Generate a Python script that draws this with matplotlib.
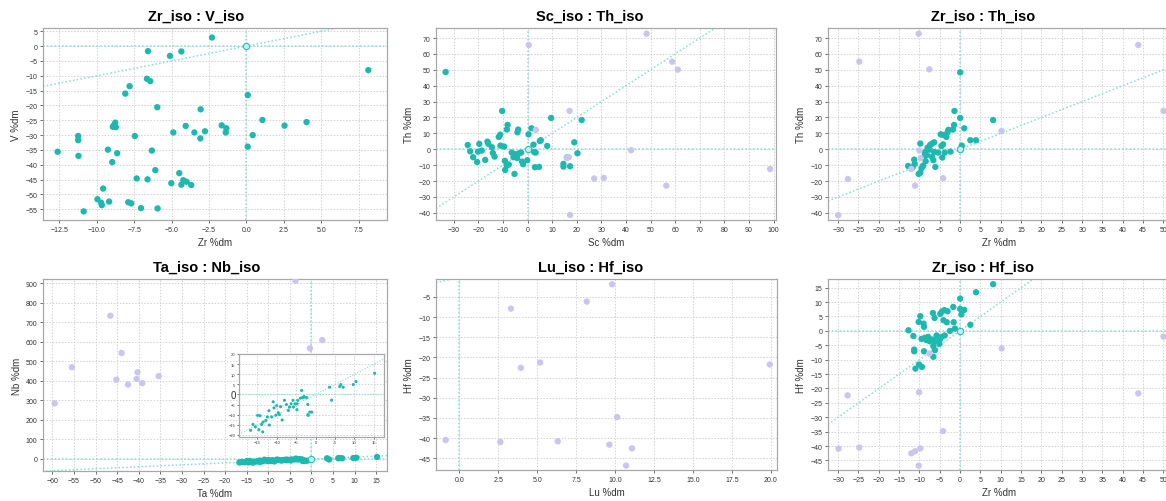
import matplotlib.pyplot as plt
import numpy as np

plt.rcParams['font.family'] = ['Liberation Sans', 'DejaVu Sans']

TEAL = '#1db8b0'
LAV = '#c8c6ee'
REF = '#86dcd8'

# --- Zr_iso : V_iso ---
zr_v_x = [-2.30, -6.58, -5.11, -4.35, 8.15, -6.65, -6.43, -7.81, -8.10, 0.09, -5.96, -3.06, 1.07, 4.02, 2.55,
          -1.65, -1.34, -1.38, -4.06, -2.77, -3.48, -4.89, -3.08, 0.42, 0.09, -8.77, -8.88, -8.73, -8.93, -7.46,
          -11.25, -11.25, -12.62, -11.23, -9.26, -8.64, -6.32, -8.97, -6.09, -4.49, -7.34, -6.61, -5.02, -4.22,
          -4.0, -4.35, -3.69, -9.58, -9.96, -9.71, -9.67, -9.18, -7.90, -7.70, -7.05, -5.94, -10.88]
zr_v_y = [2.9, -1.7, -3.3, -1.8, -8.1, -11.0, -11.8, -13.5, -16.0, -16.5, -20.6, -21.3, -24.9, -25.6, -26.8,
          -26.7, -27.7, -29.1, -26.9, -28.7, -29.1, -29.1, -31.1, -30.0, -33.9, -25.8, -26.8, -27.3, -27.2, -30.3,
          -30.3, -31.7, -35.6, -37.0, -34.9, -36.1, -35.2, -39.1, -41.8, -42.8, -44.6, -44.9, -46.2, -45.2,
          -45.7, -46.7, -46.8, -48.0, -51.6, -52.8, -53.6, -52.4, -52.6, -53.0, -54.6, -54.7, -55.7]

# --- Sc_iso : Th_iso ---
sc_th_x = [-33.3, -10.3, 9.6, 22.0, -8.1, 1.6, -3.8, -4.1, 0.4, -8.4, -11.1, -11.7, 5.4, 5.0, 19.0, -24.3,
           -19.6, -16.3, -15.9, -14.5, -11.0, -9.5, 2.4, 8.0, -23.3, -20.1, -18.6, -14.1, -13.4, -22.1, -17.2,
           -20.5, -9.2, -6.4, -5.0, -3.4, -2.6, -5.7, -4.2, -2.2, -0.1, -1.8, -7.6, -8.4, -9.1, -5.3, 2.7, 3.3,
           20.3, 16.0, 14.6, 14.6, 17.3, 3.0, 4.7]
sc_th_y = [48.6, 24.1, 19.7, 18.4, 15.3, 13.2, 12.4, 10.7, 9.4, 12.4, 9.2, 7.8, 5.7, 5.2, 4.4, 2.7,
           3.4, 4.8, 3.4, 1.3, 2.3, 1.7, 2.9, 2.1, -1.3, -1.5, -0.8, -2.3, -4.6, -5.0, -6.7,
           -8.0, -7.3, -2.1, -3.1, -2.5, -2.1, -5.0, -5.5, -7.8, -6.9, -9.4, -9.6, -10.3, -13.0, -15.5, -1.7, -2.1,
           -2.5, -5.2, -9.2, -10.9, -10.7, -11.3, -11.1]
sc_th_out_x = [48.4, 0.5, 58.8, 61.1, 17.1, 3.4, 42.1, 16.8, 16.0, 27.1, 31.0, 56.4, 98.6, 17.3]
sc_th_out_y = [72.7, 65.6, 55.1, 50.1, 24.1, 12.2, -0.6, -5.0, -5.5, -18.4, -18.0, -22.9, -12.4, -41.3]

# --- Zr_iso : Th_iso ---
zr_th_x = [0.0, -1.4, 0.0, 8.1, -1.5, 1.0, -2.9, -3.1, -4.8, -4.2, -1.8, -3.4, 2.5, 3.9, -9.8, -7.0, -6.4,
           -7.4, -4.2, -4.6, 0.4, -8.0, -7.5, -6.4, -5.4, -3.8, -2.4, -8.7, -8.2, -8.9, -6.9, -4.4, -6.6,
           -11.3, -8.5, -11.2, -12.8, -11.7, -9.1, -6.1, -9.5, -9.8, -10.2]
zr_th_y = [48.4, 24.1, 19.7, 18.4, 15.3, 13.2, 12.2, 10.7, 9.4, 9.0, 12.4, 7.8, 5.7, 5.7, 3.6, 3.4, 4.4,
           2.7, 3.1, 2.1, 2.3, 1.0, -0.2, -1.7, -2.1, -2.1, -1.5, -1.9, -3.6, -4.8, -4.8, -5.2, -6.9,
           -6.5, -7.5, -9.2, -10.5, -11.5, -10.3, -11.1, -11.9, -14.7, -15.5]
zr_th_out_x = [-10.2, -24.8, -7.6, 43.8, 50.0, 10.2, -10.0, -9.7, -12.0, -27.6, -4.2, -11.1, -30.0]
zr_th_out_y = [72.7, 55.1, 50.3, 65.6, 24.1, 11.5, -0.8, -5.5, -12.4, -18.7, -18.2, -22.9, -41.5]

# --- Ta_iso : Nb_iso ---
ta_nb_x = [15.2, 10.4, 9.7, 6.5, 6.2, 7.1, 3.6, 4.1, -3.6, -3.0, -3.4, -3.9, -2.3, -4.6, -5.8, -4.8,
           -2.0, -1.5, -1.0, -2.0, -4.8, -6.7, -6.3, -7.0, -8.0, -10.7, -10.9, -9.6, -9.3, -10.2, -8.6, -11.3,
           -12.4, -14.9, -14.3, -12.8, -13.5, -13.9, -11.9, -16.1, -16.7, -14.6, -13.6, -5.3, -5.7, -2.9,
           -1.9, -7.5, -9.0, -15.5, -12.0, -10.0]
ta_nb_y = [10.5, 6.4, 4.9, 4.9, 3.9, 3.6, 3.6, -2.8, 2.0, -1.0, -1.6, -1.8, -1.5, -2.9, -2.9, -4.6,
           -4.9, -8.7, -8.7, -10.0, -7.5, -6.2, -4.6, -7.9, -2.9, -6.6, -3.6, -9.0, -9.9, -10.2, -12.6, -11.1,
           -11.1, -10.3, -10.5, -12.8, -13.6, -14.8, -15.1, -14.8, -17.7, -17.4, -18.5, -4.6, -6.2, -1.3,
           -10.3, -5.0, -6.0, -16.0, -8.0, -5.5]
ta_nb_out_x = [-59.5, -55.5, -46.6, -44.0, -45.2, -42.5, -40.3, -40.5, -39.2, -35.4, -3.7, -0.35, 2.5]
ta_nb_out_y = [285, 470, 734, 543, 406, 381, 444, 410, 389, 425, 913, 567, 609]

# --- Lu_iso : Hf_iso ---
lu_hf_out_x = [9.81, 8.18, 3.31, 3.95, 5.19, 19.94, 10.13, -0.88, 2.63, 6.32, 9.64, 11.09, 10.71]
lu_hf_out_y = [-1.87, -6.15, -7.89, -22.57, -21.25, -21.74, -34.77, -40.46, -40.96, -40.79, -41.62, -42.53, -46.81]

# --- Zr_iso : Hf_iso ---
zr_hf_x = [8.1, 3.9, 0.0, -1.7, 0.0, 1.0, 0.3, 2.5, -6.7, -9.8, -6.3, -4.5, -3.9, -3.1, -4.9, -4.1, -3.3,
           -1.6, -10.2, -9.0, -8.9, -12.7, -2.5, -1.3, -11.5, -9.5, -8.7, -8.3, -7.9, -7.5, -6.9, -6.2, -5.0,
           -4.6, -3.8, -5.8, -6.6, -5.1, -6.2, -11.3, -11.3, -8.9, -6.6, -10.1, -9.4, -11.0]
zr_hf_y = [16.2, 13.4, 11.2, 8.3, 7.6, 7.3, 5.7, 2.1, 6.2, 5.1, 4.5, 6.7, 7.2, 6.8, 5.9, 3.7, 3.0,
           3.0, 3.1, 2.5, 1.4, 0.2, 0.0, 0.8, -1.8, -2.8, -2.4, -3.2, -2.1, -3.6, -3.0, -3.6, -3.0,
           -2.1, -1.6, -1.6, -5.3, -4.5, -6.7, -6.5, -7.1, -7.1, -9.0, -11.7, -12.5, -13.1]
zr_hf_out_x = [50.0, 10.2, -7.6, -27.7, -10.1, 43.8, -4.2, -29.9, -24.8, -9.8, -12.0, -11.1, -10.2]
zr_hf_out_y = [-2.0, -6.1, -7.9, -22.4, -21.3, -21.7, -34.8, -40.9, -40.5, -40.8, -42.5, -41.8, -46.8]

W, H = 1166, 502


def rect(l, r, t, b):
    return [l / W, 1 - b / H, (r - l) / W, (b - t) / H]


def style(ax, fs=5):
    ax.set_facecolor('white')
    for s in ax.spines.values():
        s.set_color('#a8a8a8')
        s.set_linewidth(0.9)
    ax.grid(True, color='#c8c8c8', linestyle=(0, (2, 2)), linewidth=0.55)
    ax.set_axisbelow(True)
    ax.tick_params(labelsize=fs, colors='#333333', length=2, width=0.5, pad=2)
    for t in ax.get_xticklines() + ax.get_yticklines():
        t.set_color('#999999')


def panel(pos, title, tx, xl, yl, xlim, ylim, xt, yt, x=None, y=None, ox=None, oy=None, s=21):
    ax = fig.add_axes(pos)
    style(ax)
    ax.axhline(0, color=REF, ls=(0, (1, 1.5)), lw=1.1, zorder=1)
    ax.axvline(0, color=REF, ls=(0, (1, 1.5)), lw=1.1, zorder=1)
    ax.axline((0, 0), slope=1, color=REF, ls=(0, (1, 1.5)), lw=1.1, zorder=1)
    if x is not None:
        ax.scatter(x, y, s=s, color=TEAL, edgecolors='none', zorder=3)
        ax.scatter([0], [0], s=s, facecolors='#bfeeee', edgecolors=TEAL, linewidths=0.7, zorder=3)
    if ox is not None:
        ax.scatter(ox, oy, s=s, color=LAV, edgecolors='none', zorder=4)
    ax.set_xlim(*xlim)
    ax.set_ylim(*ylim)
    ax.set_xticks(xt)
    ax.set_yticks(yt)
    ax.set_title(title, fontsize=10.5, fontweight='bold', pad=6, x=tx)
    ax.set_xlabel(xl, fontsize=7, color='#333333', labelpad=3)
    ax.set_ylabel(yl, fontsize=7, color='#333333', labelpad=3)
    return ax


fig = plt.figure(figsize=(W / 100, H / 100), dpi=100)
fig.patch.set_facecolor('white')

panel(rect(43, 387, 29, 221), 'Zr_iso : V_iso', 0.445, 'Zr %dm', 'V %dm', (-13.6, 9.4), (-58.6, 6.1),
      np.arange(-12.5, 8, 2.5), np.arange(-55, 6, 5), zr_v_x, zr_v_y)

panel(rect(436, 776, 29, 221), 'Sc_iso : Th_iso', 0.453, 'Sc %dm', 'Th %dm', (-37.2, 101), (-44.5, 76.3),
      np.arange(-30, 101, 10), np.arange(-40, 71, 10), sc_th_x, sc_th_y, sc_th_out_x, sc_th_out_y)

panel(rect(828, 1170, 29, 221), 'Zr_iso : Th_iso', 0.453, 'Zr %dm', 'Th %dm', (-32.5, 51.6), (-44.5, 76.3),
      np.arange(-30, 51, 5), np.arange(-40, 71, 10), zr_th_x, zr_th_y, zr_th_out_x, zr_th_out_y)

ax4 = panel(rect(43, 387, 280, 472), 'Ta_iso : Nb_iso', 0.477, 'Ta %dm', 'Nb %dm', (-62.2, 17.5), (-61.5, 922),
            np.arange(-60, 16, 5), np.arange(0, 901, 100), ta_nb_x, ta_nb_y, ta_nb_out_x, ta_nb_out_y)

panel(rect(436, 777, 280, 471), 'Lu_iso : Hf_iso', 0.452, 'Lu %dm', 'Hf %dm', (-1.5, 20.4), (-47.9, -0.55),
      np.arange(0, 20.1, 2.5), np.arange(-45, -4, 5), ox=lu_hf_out_x, oy=lu_hf_out_y)

panel(rect(828, 1170, 280, 471), 'Zr_iso : Hf_iso', 0.453, 'Zr %dm', 'Hf %dm', (-32.5, 51.6), (-48.3, 18.0),
      np.arange(-30, 51, 5), np.arange(-45, 16, 5), zr_hf_x, zr_hf_y, zr_hf_out_x, zr_hf_out_y)

# inset zoom on the Ta/Nb cluster
ins = fig.add_axes(rect(239, 384, 355, 438))
style(ins, fs=3)
ins.axhline(0, color=REF, ls=(0, (1, 1.5)), lw=0.8, zorder=1)
ins.axline((0, 0), slope=1, color=REF, ls=(0, (1, 1.5)), lw=0.8, zorder=1)
ins.scatter(ta_nb_x, ta_nb_y, s=5, color=TEAL, edgecolors='none', zorder=3)
ins.scatter([0], [0], s=5, color='#bfeeee', edgecolors='none', zorder=3)
ins.set_xlim(-19.7, 17.6)
ins.set_ylim(-21, 20)
ins.set_xticks(np.arange(-15, 16, 5))
ins.set_yticks(np.arange(-20, 21, 5))
ins.tick_params(length=1.5, pad=1)
for lab in ins.get_yticklabels():
    if lab.get_text() == '0':
        lab.set_fontsize(7)

fig.savefig('out.png', dpi=100, facecolor='white')
